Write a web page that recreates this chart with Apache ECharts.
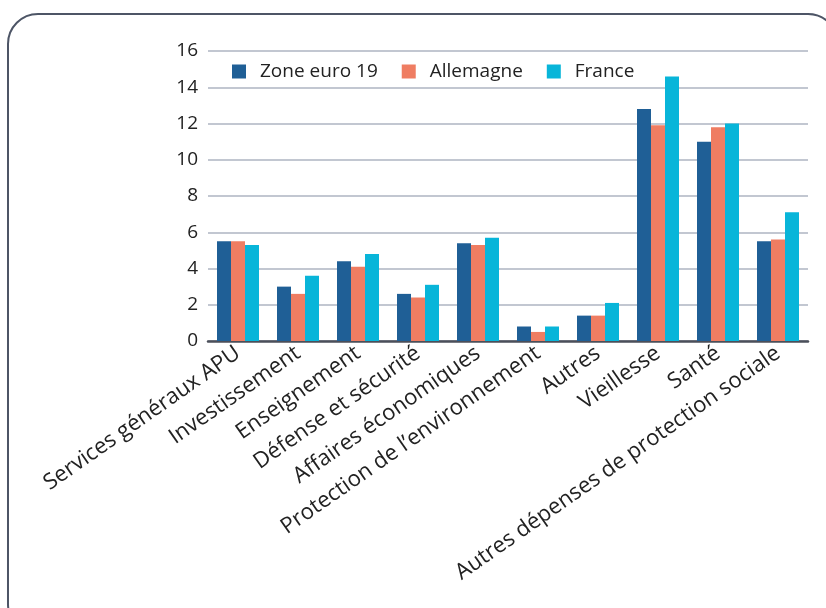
<!DOCTYPE html>
<html><head><meta charset="utf-8">
<script src="https://cdn.jsdelivr.net/npm/echarts@6/dist/echarts.min.js"></script>
<style>html,body{margin:0;padding:0;background:#fff}#c{width:826px;height:608px}</style>
</head><body><div id="c"></div>
<script>
const categories = ["Services généraux APU","Investissement","Enseignement","Défense et sécurité","Affaires économiques","Protection de l’environnement","Autres","Vieillesse","Santé","Autres dépenses de protection sociale"];
const zoneEuro = [5.5,3.0,4.4,2.6,5.4,0.8,1.4,12.8,11.0,5.5];
const allemagne = [5.5,2.6,4.1,2.4,5.3,0.5,1.4,11.9,11.8,5.6];
const france = [5.3,3.6,4.8,3.1,5.7,0.8,2.1,14.6,12.0,7.1];
const seriesNames = ["Zone euro 19","Allemagne","France"];
const chart = echarts.init(document.getElementById('c'));
const font = "'Open Sans', 'Noto Sans', sans-serif";
chart.setOption({
  animation:false,
  textStyle:{fontFamily:font},
  graphic:[{type:'rect',shape:{x:8,y:14,width:830,height:620,r:30},style:{fill:'none',stroke:'#4d5566',lineWidth:2},silent:true}],
  color:['#1f5f96','#ef7d62','#08b5d9'],
  legend:{left:227,top:57,itemWidth:14,itemHeight:14,itemGap:24,icon:'rect',
    textStyle:{fontSize:19,color:'#222',fontFamily:font,padding:[0,0,0,9]},data:seriesNames},
  grid:{left:208,right:18,top:51,bottom:267,containLabel:false},
  xAxis:{type:'category',data:categories,
    axisLine:{lineStyle:{color:'#4b4f5a',width:2.5}},axisTick:{show:false},
    axisLabel:{rotate:35,fontSize:22,color:'#222',margin:10,interval:0,fontFamily:font}},
  yAxis:{type:'value',min:0,max:16,interval:2,
    axisLine:{show:false},axisTick:{show:false},
    splitLine:{lineStyle:{color:'#aeb4c2',width:1.5}},
    axisLabel:{fontSize:19,color:'#222',margin:10,fontFamily:font}},
  series:[
    {name:seriesNames[0],type:'bar',data:zoneEuro,barWidth:14,barGap:'0%'},
    {name:seriesNames[1],type:'bar',data:allemagne,barWidth:14,barGap:'0%'},
    {name:seriesNames[2],type:'bar',data:france,barWidth:14,barGap:'0%'}
  ]
});
</script></body></html>
